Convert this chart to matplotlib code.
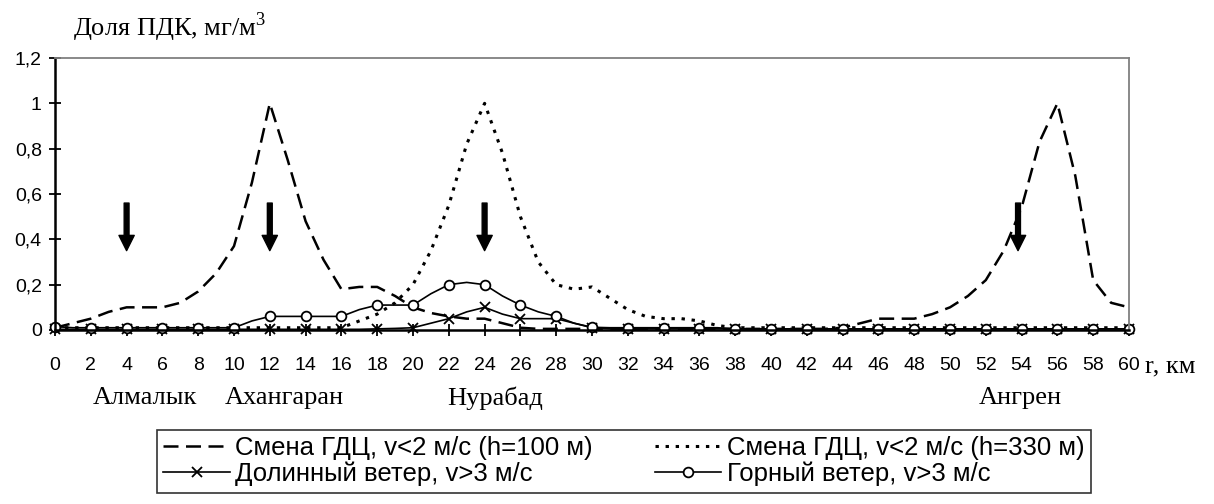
import matplotlib
matplotlib.use('Agg')
import matplotlib.pyplot as plt
import matplotlib.transforms as mtransforms
import numpy as np

plt.rcParams['mathtext.fontset'] = 'custom'
plt.rcParams['mathtext.rm'] = 'Liberation Serif'

# расстояние, км
r = np.arange(0, 61)

# Смена ГДЦ, v<2 м/с (h=100 м)
h100 = [0.01, 0.03, 0.05, 0.08, 0.10, 0.10, 0.10, 0.12, 0.17, 0.25,
        0.37, 0.65, 1.00, 0.75, 0.48, 0.31, 0.18, 0.19, 0.19, 0.15,
        0.10, 0.075, 0.06, 0.05, 0.05, 0.03, 0.01, 0.005, 0.005, 0.005,
        0.005, 0.005, 0.005, 0.005, 0.005, 0.005, 0.005, 0.005, 0.005, 0.005,
        0.005, 0.005, 0.005, 0.005, 0.01, 0.03, 0.05, 0.05, 0.05, 0.07,
        0.10, 0.15, 0.22, 0.35, 0.54, 0.83, 1.00, 0.68, 0.22, 0.12,
        0.10]
# Смена ГДЦ, v<2 м/с (h=330 м)
h330 = [0.01, 0.01, 0.01, 0.01, 0.01, 0.01, 0.01, 0.01, 0.01, 0.01,
        0.01, 0.01, 0.01, 0.01, 0.01, 0.01, 0.01, 0.04, 0.07, 0.12,
        0.20, 0.35, 0.55, 0.82, 1.00, 0.78, 0.50, 0.30, 0.20, 0.18,
        0.19, 0.14, 0.09, 0.06, 0.05, 0.05, 0.04, 0.02, 0.01, 0.01,
        0.01, 0.01, 0.01, 0.01, 0.01, 0.01, 0.01, 0.01, 0.01, 0.01,
        0.01, 0.01, 0.01, 0.01, 0.01, 0.01, 0.01, 0.01, 0.01, 0.01,
        0.01]
# Долинный ветер, v>3 м/с
valley = [0.003, 0.003, 0.003, 0.003, 0.003, 0.003, 0.003, 0.003, 0.003, 0.003,
          0.003, 0.003, 0.003, 0.003, 0.003, 0.003, 0.003, 0.003, 0.005, 0.007,
          0.01, 0.03, 0.05, 0.08, 0.10, 0.07, 0.05, 0.05, 0.05, 0.03,
          0.01, 0.005, 0.005, 0.005, 0.005, 0.005, 0.005, 0.005, 0.005, 0.005,
          0.005, 0.005, 0.005, 0.005, 0.005, 0.005, 0.005, 0.005, 0.005, 0.005,
          0.005, 0.005, 0.005, 0.005, 0.005, 0.005, 0.005, 0.005, 0.005, 0.005,
          0.005]
# Горный ветер, v>3 м/с
mountain = [0.015, 0.01, 0.01, 0.01, 0.01, 0.01, 0.01, 0.01, 0.01, 0.01,
            0.01, 0.04, 0.06, 0.06, 0.06, 0.06, 0.06, 0.09, 0.11, 0.11,
            0.11, 0.16, 0.20, 0.21, 0.20, 0.15, 0.11, 0.08, 0.06, 0.03,
            0.012, 0.01, 0.01, 0.01, 0.01, 0.01, 0.01, 0.01, 0.005, 0.005,
            0.005, 0.005, 0.005, 0.005, 0.005, 0.005, 0.005, 0.005, 0.005, 0.005,
            0.005, 0.005, 0.005, 0.005, 0.005, 0.005, 0.005, 0.005, 0.005, 0.005,
            0.005]

# города и стрелки
cities = ['Алмалык', 'Ахангаран', 'Нурабад', 'Ангрен']
city_x = [5.0, 12.8, 24.6, 53.9]
arrow_x = [4, 12, 24, 53.8]

sans = ['Liberation Sans', 'DejaVu Sans']
serif = ['Liberation Serif', 'DejaVu Serif']

fig = plt.figure(figsize=(12.14, 5.04), dpi=100)
ax = fig.add_axes([55 / 1214, 1 - 330 / 504, 1074 / 1214, 272 / 504])

l1, = ax.plot(r, h100, color='black', lw=1.8, linestyle=(0, (6, 3)),
              label='Смена ГДЦ, v<2 м/с (h=100 м)', clip_on=False)
l2, = ax.plot(r, h330, color='black', lw=2.2, linestyle=(0, (1.1, 2.2)),
              label='Смена ГДЦ, v<2 м/с (h=330 м)', clip_on=False)
l3, = ax.plot(r, valley, color='black', lw=1.2, marker='x', markersize=7,
              mew=1.3, markevery=2, label='Долинный ветер, v>3 м/с', clip_on=False)
l4, = ax.plot(r, mountain, color='black', lw=1.2, marker='o', markersize=7,
              mfc='white', mew=1.3, markevery=2, label='Горный ветер, v>3 м/с',
              clip_on=False)

ax.set_xlim(0, 60)
ax.set_ylim(0, 1.2)
ax.set_xticks(np.arange(0, 61, 2))
ax.set_yticks(np.arange(0, 1.21, 0.2))
ax.set_yticklabels(['0', '0,2', '0,4', '0,6', '0,8', '1', '1,2'])
ax.tick_params(direction='inout', length=9, width=1.3, labelsize=14)
ax.tick_params(axis='x', pad=15)
ax.tick_params(axis='y', pad=5)
for lab in ax.get_xticklabels() + ax.get_yticklabels():
    lab.set_family(sans)

for s in ['left', 'bottom']:
    ax.spines[s].set_color('black')
    ax.spines[s].set_linewidth(1.8)
for s in ['top', 'right']:
    ax.spines[s].set_color('#808080')
    ax.spines[s].set_linewidth(1.3)

# стрелки над городами
for x in arrow_x:
    ax.annotate('', xy=(x, 0.35), xytext=(x, 0.56),
                arrowprops=dict(facecolor='black', edgecolor='black', width=3.5,
                                headwidth=11, headlength=11, shrink=0))

trans = mtransforms.blended_transform_factory(ax.transData, fig.transFigure)
for name, x in zip(cities, city_x):
    ax.text(x, 1 - 398 / 504, name, transform=trans, ha='center', va='center',
            family=serif, fontsize=19)

fig.text(73 / 1214, 1 - 27 / 504, 'Доля ПДК, мг/м$^3$', family=serif, fontsize=19,
         va='center', ha='left')
fig.text(1145 / 1214, 1 - 366 / 504, 'r, км', family=serif, fontsize=19,
         va='center', ha='left')

leg = fig.legend(handles=[l1, l3, l2, l4], ncol=2, loc='upper left',
                 bbox_to_anchor=(157 / 1214, 1 - 430 / 504),
                 frameon=True, fancybox=False, handlelength=2.6,
                 handletextpad=0.2, borderpad=0.25, labelspacing=0.05,
                 columnspacing=2.4, borderaxespad=0,
                 prop={'family': sans, 'size': 18.5})
leg.get_frame().set_edgecolor('black')
leg.get_frame().set_linewidth(1.2)

fig.savefig('out.png', dpi=100)
